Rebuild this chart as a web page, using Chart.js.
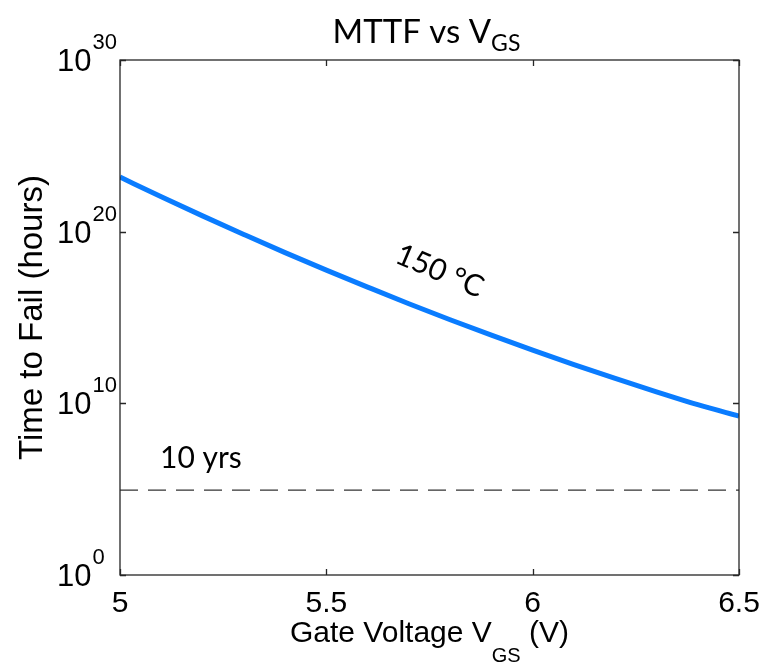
<!DOCTYPE html>
<html>
<head>
<meta charset="utf-8">
<script src="https://cdn.jsdelivr.net/npm/chart.js@4/dist/chart.umd.min.js"></script>
<style>
    html, body { margin: 0; padding: 0; background: #ffffff; }
    #wrap { width: 763px; height: 664px; position: relative; }
</style>
</head>
<body>
<div id="wrap"><canvas id="mttfChart"></canvas></div>
<script>
const gateVoltages = [5.0, 5.1, 5.2, 5.3, 5.4, 5.5, 5.6, 5.7, 5.8, 5.9, 6.0, 6.1, 6.2, 6.3, 6.4, 6.5];
const mttfHours = [1.51e23, 1.08e22, 8.3e20, 6.9e19, 6.0e18, 5.75e17, 5.9e16, 6.3e15,
                   7.4e14, 9.3e13, 1.26e13, 1.82e12, 2.8e11, 4.7e10, 8.3e9, 1.82e9];

// ten years in hours, drawn as the dashed reference line
const tenYearsHours = 87600;
const refLineVoltages = [5.0, 6.5];

const xTickValues = [5, 5.5, 6, 6.5];
const xTickLabels = ['5', '5.5', '6', '6.5'];
const yTickExponents = [0, 10, 20, 30];

const AXIS_FONT = '"Liberation Sans", Arial, sans-serif';
const NOTE_FONT = 'Lato, "Open Sans", sans-serif';

// draws the MATLAB style box, inward ticks, labels and notes
const matlabFrame = {
    id: 'matlabFrame',
    afterDraw(chart) {
        const ctx = chart.ctx;
        const area = chart.chartArea;
        const xs = chart.scales.x;
        const ys = chart.scales.y;
        const tick = 6;

        ctx.save();
        ctx.strokeStyle = '#262626';
        ctx.lineWidth = 1.3;
        ctx.strokeRect(area.left, area.top, area.right - area.left, area.bottom - area.top);

        ctx.beginPath();
        xTickValues.forEach((v) => {
            const px = Math.round(xs.getPixelForValue(v)) + 0.5;
            ctx.moveTo(px, area.bottom);
            ctx.lineTo(px, area.bottom - tick);
            ctx.moveTo(px, area.top);
            ctx.lineTo(px, area.top + tick);
        });
        yTickExponents.forEach((e) => {
            const py = Math.round(ys.getPixelForValue(Math.pow(10, e))) + 0.5;
            ctx.moveTo(area.left, py);
            ctx.lineTo(area.left + tick, py);
            ctx.moveTo(area.right, py);
            ctx.lineTo(area.right - tick, py);
        });
        ctx.stroke();

        ctx.fillStyle = '#000000';

        // x tick labels
        ctx.font = '30px ' + AXIS_FONT;
        ctx.textAlign = 'center';
        ctx.textBaseline = 'alphabetic';
        xTickValues.forEach((v, i) => {
            ctx.fillText(xTickLabels[i], xs.getPixelForValue(v), area.bottom + 37);
        });

        // y tick labels as 10 with a raised exponent
        ctx.textAlign = 'left';
        yTickExponents.forEach((e) => {
            const py = ys.getPixelForValue(Math.pow(10, e));
            ctx.font = '31px ' + AXIS_FONT;
            const baseW = ctx.measureText('10').width;
            ctx.fillText('10', 57, py + 11);
            ctx.font = '22px ' + AXIS_FONT;
            ctx.fillText(String(e), 57 + baseW + 1, py - 11);
        });

        // x axis title with subscript
        const cx = (area.left + area.right) / 2;
        ctx.font = '30px ' + AXIS_FONT;
        const partA = 'Gate Voltage V';
        const partC = ' (V)';
        const wA = ctx.measureText(partA).width;
        const wC = ctx.measureText(partC).width;
        ctx.font = '20px ' + AXIS_FONT;
        const wB = ctx.measureText('GS').width;
        let x0 = cx - (wA + wB + wC) / 2;
        ctx.font = '30px ' + AXIS_FONT;
        ctx.fillText(partA, x0, area.bottom + 67);
        ctx.font = '20px ' + AXIS_FONT;
        ctx.fillText('GS', x0 + wA, area.bottom + 87);
        ctx.font = '30px ' + AXIS_FONT;
        ctx.fillText(partC, x0 + wA + wB, area.bottom + 67);

        // y axis title
        ctx.save();
        ctx.translate(42, (area.top + area.bottom) / 2);
        ctx.rotate(-Math.PI / 2);
        ctx.textAlign = 'center';
        ctx.font = '33px ' + AXIS_FONT;
        ctx.fillText('Time to Fail (hours)', 0, 0);
        ctx.restore();

        // chart title with subscript
        ctx.font = '33px ' + NOTE_FONT;
        const tA = 'MTTF vs V';
        const twA = ctx.measureText(tA).width;
        ctx.font = '23px ' + NOTE_FONT;
        const twB = ctx.measureText('GS').width;
        const tx = cx - 3 - (twA + twB) / 2;
        ctx.font = '33px ' + NOTE_FONT;
        ctx.fillText(tA, tx, 43);
        ctx.font = '23px ' + NOTE_FONT;
        ctx.fillText('GS', tx + twA, 51);

        // notes
        ctx.font = '30px ' + NOTE_FONT;
        ctx.fillText('10 yrs', xs.getPixelForValue(5.097), ys.getPixelForValue(tenYearsHours) - 22);

        ctx.save();
        ctx.translate(xs.getPixelForValue(5.775), ys.getPixelForValue(5e17));
        ctx.rotate(23 * Math.PI / 180);
        ctx.textAlign = 'center';
        ctx.textBaseline = 'middle';
        ctx.fillText('150 °C', 0, 0);
        ctx.restore();

        ctx.restore();
    }
};

function buildChart() {
    const el = document.getElementById('mttfChart');

    new Chart(el, {
        type: 'line',
        data: {
            datasets: [
                {
                    label: '150 °C',
                    data: gateVoltages.map((v, i) => ({ x: v, y: mttfHours[i] })),
                    borderColor: '#0a7cff',
                    borderWidth: 5,
                    pointRadius: 0,
                    cubicInterpolationMode: 'monotone',
                    fill: false
                },
                {
                    label: '10 yrs',
                    data: refLineVoltages.map((v) => ({ x: v, y: tenYearsHours })),
                    borderColor: '#333333',
                    borderWidth: 1.2,
                    borderDash: [18, 10],
                    pointRadius: 0,
                    fill: false
                }
            ]
        },
        options: {
            responsive: true,
            maintainAspectRatio: false,
            animation: false,
            layout: {
                padding: { left: 120, top: 60, right: 24, bottom: 89 }
            },
            scales: {
                x: { type: 'linear', min: 5, max: 6.5, display: false },
                y: { type: 'logarithmic', min: 1, max: 1e30, display: false }
            },
            plugins: {
                legend: { display: false },
                tooltip: { enabled: false }
            }
        },
        plugins: [matlabFrame]
    });
}

buildChart();
</script>
</body>
</html>
